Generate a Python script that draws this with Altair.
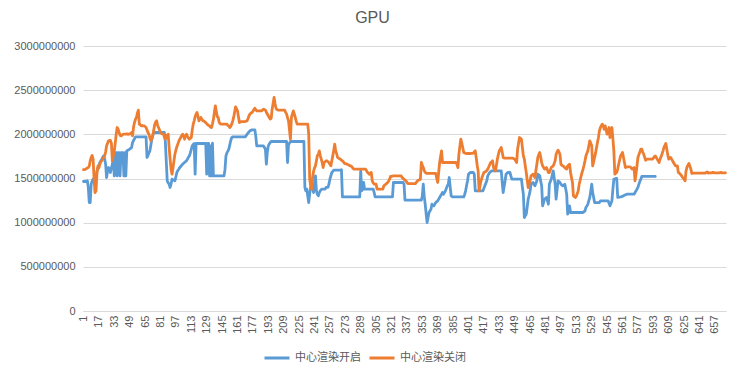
import altair as alt
import pandas as pd

TITLE = "GPU"
SERIES_ON = "中心渲染开启"
SERIES_OFF = "中心渲染关闭"
X_TICKS = [1, 17, 33, 49, 65, 81, 97, 113, 129, 145, 161, 177, 193, 209, 225, 241, 257,
           273, 289, 305, 321, 337, 353, 369, 385, 401, 417, 433, 449, 465, 481, 497, 513,
           529, 545, 561, 577, 593, 609, 625, 641, 657]
Y_TICKS = [0, 500000000, 1000000000, 1500000000, 2000000000, 2500000000, 3000000000]

# values in millions
off_values = [
    1600,1600,1605,1610,1620,1625,1640,1700,1740,1760,
    1720,1500,1340,1360,1560,1640,1620,1660,1690,1700,
    1720,1740,1756,1800,1870,1900,1926,1930,1930,1900,
    1700,1760,1813,1900,2000,2077,2060,2020,1990,1983,
    1990,2000,2002,2002,2002,2005,2000,2002,2002,2010,
    2021,1983,2080,2134,2170,2191,2240,2274,2115,2110,
    2096,2100,2096,2096,2090,2077,2050,2020,2002,1960,
    1926,1950,1983,2050,2110,2140,2153,2100,2077,2050,
    2021,2010,2005,2002,1970,1945,1970,1990,2002,1850,
    1719,1600,1549,1620,1700,1775,1820,1860,1889,1920,
    1945,1964,1985,2002,1980,1945,1980,2002,1980,1960,
    1945,1955,1964,2050,2115,2153,2200,2230,2247,2200,
    2153,2170,2191,2170,2153,2153,2140,2134,2120,2110,
    2100,2096,2080,2077,2120,2170,2250,2323,2260,2200,
    2191,2134,2120,2115,2115,2115,2115,2115,2115,2115,
    2100,2096,2077,2090,2115,2150,2191,2250,2311,2290,
    2266,2200,2134,2140,2145,2145,2145,2145,2145,2150,
    2153,2180,2210,2230,2240,2247,2260,2280,2296,2280,
    2266,2266,2266,2266,2266,2266,2275,2285,2280,2274,
    2250,2230,2210,2190,2172,2180,2285,2350,2417,2350,
    2296,2280,2274,2274,2274,2274,2274,2274,2274,2274,
    2250,2228,2190,2153,2050,1945,2191,2230,2266,2230,
    2191,2150,2115,2115,2115,2115,2115,2115,2115,2115,
    2115,2115,2115,2115,2002,1492,1420,1379,1511,1580,
    1620,1643,1700,1760,1775,1813,1760,1719,1680,1624,
    1681,1690,1700,1700,1690,1681,1660,1643,1700,1756,
    1820,1889,1813,1780,1738,1730,1725,1719,1707,1700,
    1690,1673,1668,1665,1662,1655,1650,1643,1643,1630,
    1615,1606,1606,1606,1606,1606,1606,1606,1606,1606,
    1606,1606,1606,1606,1590,1568,1560,1549,1560,1568,
    1474,1450,1436,1436,1436,1379,1379,1379,1379,1379,
    1379,1379,1417,1425,1436,1445,1455,1470,1492,1523,
    1525,1528,1530,1530,1530,1530,1530,1530,1530,1530,
    1530,1511,1500,1492,1480,1474,1455,1443,1443,1443,
    1443,1443,1443,1443,1443,1443,1460,1474,1480,1485,
    1492,1681,1650,1624,1590,1568,1560,1557,1557,1557,
    1557,1557,1557,1557,1557,1557,1557,1500,1455,1568,
    1681,1750,1813,1681,1681,1681,1681,1681,1681,1681,
    1681,1681,1681,1681,1681,1681,1681,1681,1660,1624,
    1775,1860,1945,1900,1851,1794,1790,1785,1783,1783,
    1783,1783,1783,1785,1785,1787,1800,1813,1738,1650,
    1587,1360,1420,1474,1511,1540,1568,1575,1580,1590,
    1606,1630,1655,1681,1690,1700,1624,1600,1587,1650,
    1719,1770,1813,1830,1851,1800,1738,1732,1730,1730,
    1730,1730,1730,1730,1730,1730,1730,1725,1719,1700,
    1681,1832,1900,1964,1955,1945,1850,1756,1719,1640,
    1568,1480,1398,1440,1474,1530,1540,1549,1530,1511,
    1590,1662,1738,1770,1794,1740,1681,1643,1625,1606,
    1615,1624,1596,1568,1568,1596,1624,1635,1643,1670,
    1700,1775,1800,1821,1800,1775,1662,1650,1643,1635,
    1624,1615,1606,1643,1650,1662,1568,1510,1455,1304,
    1295,1285,1300,1330,1360,1436,1480,1530,1570,1606,
    1650,1700,1756,1785,1813,1870,1926,1900,1870,1643,
    1690,1738,1790,1851,1910,1964,2040,2077,2100,2115,
    2090,2058,2096,2050,2002,2040,2077,1964,2020,2077,
    1950,1813,1549,1560,1568,1610,1662,1710,1756,1775,
    1794,1738,1680,1624,1630,1632,1632,1632,1632,1620,
    1606,1615,1624,1473,1549,1640,1738,1770,1800,1832,
    1832,1800,1775,1740,1707,1719,1719,1719,1719,1719,
    1719,1719,1730,1745,1756,1740,1719,1700,1681,1719,
    1745,1775,1810,1851,1875,1896,1832,1770,1719,1730,
    1738,1719,1700,1681,1660,1643,1643,1643,1568,1560,
    1549,1535,1519,1505,1492,1473,1587,1630,1650,1670,
    1640,1606,1557,1560,1560,1560,1560,1560,1560,1560,
    1560,1560,1560,1560,1560,1560,1560,1568,1575,1562,
    1564,1564,1564,1564,1570,1564,1564,1564,1564,1564,
    1564,1564,1570,1564,1564,1564,1564,1564,
]

on_values = [
    1466,1466,1466,1466,1474,1400,1228,1228,1436,1470,
    1492,1460,1436,1500,1587,1620,1650,1681,1700,1719,
    1740,1756,1720,1662,1511,1580,1624,1600,1568,1620,
    1662,1719,1530,1780,1794,1530,1794,1794,1530,1794,
    1794,1794,1530,1794,1530,1813,1820,1825,1832,1840,
    1851,1907,1930,1950,1972,1972,1972,1972,1972,1972,
    1972,1972,1972,1972,1972,1972,1738,1760,1790,1813,
    1880,1945,1990,2021,2021,2021,2021,2021,2021,2021,
    2021,2021,2021,2021,2021,1926,1700,1474,1450,1436,
    1398,1440,1492,1485,1480,1474,1520,1568,1590,1605,
    1624,1635,1650,1662,1672,1682,1690,1700,1720,1740,
    1756,1790,1830,1870,1885,1896,1549,1896,1896,1896,
    1896,1896,1896,1896,1896,1896,1896,1896,1549,1896,
    1896,1530,1870,1530,1900,1530,1530,1530,1530,1530,
    1530,1530,1530,1530,1530,1530,1530,1600,1756,1790,
    1810,1832,1880,1930,1964,1972,1972,1972,1972,1972,
    1972,1972,1972,1972,1972,1972,1972,1972,1972,1985,
    2002,2015,2028,2040,2045,2051,2051,2051,2051,1980,
    1870,1870,1870,1870,1870,1870,1870,1870,1850,1832,
    1662,1800,1870,1890,1907,1919,1919,1919,1919,1919,
    1919,1919,1919,1919,1919,1919,1919,1919,1919,1919,
    1919,1919,1681,1880,1900,1919,1919,1919,1919,1919,
    1919,1919,1919,1919,1919,1919,1919,1919,1919,1919,
    1400,1360,1380,1300,1228,1330,1400,1436,1400,1341,
    1450,1530,1360,1320,1304,1340,1360,1375,1379,1379,
    1379,1379,1400,1400,1400,1436,1492,1530,1568,1580,
    1594,1594,1594,1594,1594,1594,1594,1594,1600,1292,
    1292,1292,1292,1292,1292,1292,1292,1292,1292,1292,
    1292,1292,1292,1292,1292,1292,1292,1292,1587,1360,
    1379,1455,1379,1379,1379,1379,1379,1379,1379,1379,
    1379,1379,1340,1292,1292,1292,1292,1292,1292,1292,
    1292,1292,1292,1292,1292,1292,1292,1292,1292,1292,
    1292,1292,1455,1455,1455,1455,1455,1455,1455,1455,
    1455,1455,1455,1436,1255,1255,1255,1255,1255,1255,
    1255,1255,1255,1255,1255,1255,1255,1255,1255,1255,
    1255,1255,1300,1436,1300,1210,1100,1002,1060,1115,
    1135,1152,1209,1200,1190,1210,1228,1238,1247,1266,
    1285,1304,1322,1341,1322,1340,1360,1390,1417,1436,
    1511,1400,1304,1292,1292,1292,1292,1292,1292,1292,
    1292,1292,1292,1292,1292,1292,1320,1360,1420,1474,
    1549,1560,1568,1568,1568,1568,1549,1360,1360,1360,
    1360,1360,1360,1360,1360,1360,1390,1417,1445,1474,
    1530,1550,1568,1578,1587,1587,1587,1587,1587,1587,
    1587,1587,1587,1587,1587,1460,1341,1410,1474,1549,
    1560,1568,1568,1568,1530,1492,1492,1492,1492,1492,
    1492,1492,1492,1492,1492,1492,1400,1322,1058,1080,
    1096,1180,1266,1310,1360,1436,1445,1455,1436,1417,
    1445,1474,1549,1540,1530,1470,1417,1190,1230,1266,
    1275,1285,1250,1209,1436,1465,1492,1540,1587,1510,
    1436,1266,1370,1474,1465,1455,1436,1425,1417,1425,
    1436,1380,1322,1096,1140,1190,1115,1115,1115,1115,
    1115,1115,1115,1115,1115,1115,1115,1115,1115,1115,
    1125,1134,1172,1190,1209,1250,1285,1360,1436,1341,
    1285,1228,1228,1228,1228,1228,1228,1247,1247,1247,
    1247,1247,1247,1247,1247,1247,1220,1190,1220,1247,
    1379,1492,1492,1500,1500,1285,1290,1290,1292,1295,
    1300,1304,1310,1315,1320,1322,1322,1322,1322,1322,
    1322,1322,1322,1341,1360,1379,1400,1436,1465,1492,
    1523,1523,1523,1523,1523,1523,1523,1523,1523,1523,
    1523,1523,1523,1523,1523,
]

N_CATEGORIES = len(off_values)

rows = []
for i, v in enumerate(on_values):
    rows.append({"idx": i + 1, "value": v * 1e6, "series": SERIES_ON})
for i, v in enumerate(off_values):
    rows.append({"idx": i + 1, "value": v * 1e6, "series": SERIES_OFF})
df = pd.DataFrame(rows)

FONT = "Liberation Sans"
CJK = "Noto Sans CJK SC"
GREY = "#595959"

chart = alt.Chart(df).mark_line(strokeWidth=2.8, strokeJoin="round", strokeCap="round").encode(
    x=alt.X("idx:Q",
            scale=alt.Scale(domain=[0.5, N_CATEGORIES + 0.5], nice=False, zero=False),
            axis=alt.Axis(values=X_TICKS, labelAngle=-90, title=None, grid=False,
                          domain=True, domainColor="#d9d9d9", ticks=False,
                          labelFont=FONT, labelFontSize=11, labelColor=GREY,
                          labelPadding=4, labelOverlap=False, labelFlush=False)),
    y=alt.Y("value:Q",
            scale=alt.Scale(domain=[0, 3000000000], nice=False),
            axis=alt.Axis(values=Y_TICKS, format="d", title=None, domain=False, ticks=False,
                          gridColor="#d9d9d9", gridWidth=1,
                          labelFont=FONT, labelFontSize=11, labelColor=GREY,
                          labelPadding=8)),
    color=alt.Color("series:N",
                    scale=alt.Scale(domain=[SERIES_ON, SERIES_OFF], range=["#5B9BD5", "#ED7D31"]),
                    legend=alt.Legend(title=None, orient="none", direction="horizontal",
                                      legendX=180, legendY=298,
                                      symbolType="stroke", symbolStrokeWidth=3, symbolSize=625,
                                      labelFont=CJK, labelFontSize=11, labelColor=GREY,
                                      columnPadding=2, labelOffset=4)),
    order=alt.Order("idx:Q"),
).properties(
    width=643,
    height=265,
    autosize="none",
    padding={"left": 75, "top": 38, "right": 10, "bottom": 58},
    title=alt.TitleParams(TITLE, font=FONT, fontSize=16, fontWeight="normal", color=GREY,
                          anchor="middle", dx=-32, offset=14),
).configure_view(stroke=None)

chart.save("out.html", embed_options={"renderer": "svg", "actions": False})
